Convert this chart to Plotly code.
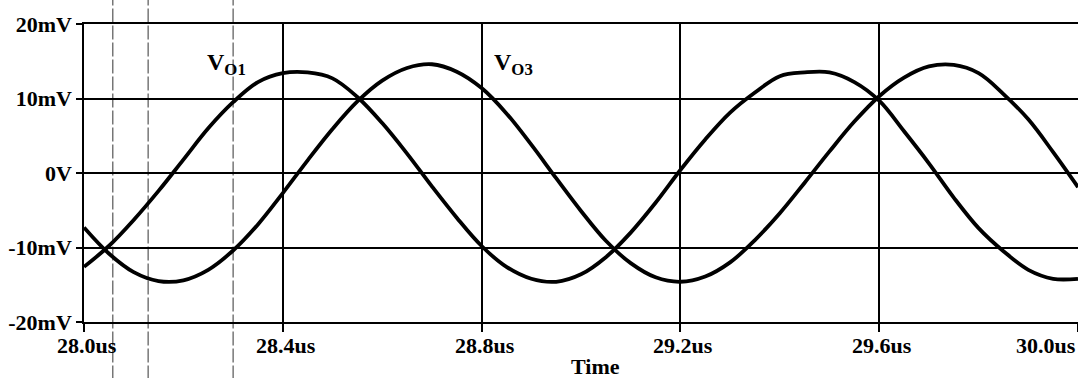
import plotly.graph_objects as go

# Transient simulation samples (time in us, voltage in mV)
time_us = [28.00, 28.05, 28.10, 28.15, 28.20, 28.25, 28.30, 28.35, 28.40, 28.45,
           28.50, 28.55, 28.60, 28.65, 28.70, 28.75, 28.80, 28.85, 28.90, 28.95,
           29.00, 29.05, 29.10, 29.15, 29.20, 29.25, 29.30, 29.35, 29.40, 29.45,
           29.50, 29.55, 29.60, 29.65, 29.70, 29.75, 29.80, 29.85, 29.90, 29.95,
           30.00]

v_o1 = [-12.6, -9.8, -6.3, -2.4, 1.8, 6.0, 9.5, 12.2, 13.4, 13.5,
        12.7, 10.2, 6.7, 2.6, -1.8, -6.0, -9.8, -12.6, -14.2, -14.6,
        -13.6, -11.3, -8.0, -4.0, 0.4, 4.5, 8.1, 10.8, 13.0, 13.5,
        13.5, 12.2, 9.7, 5.6, 1.3, -3.3, -7.4, -10.5, -13.0, -14.2,
        -14.2]

v_o3 = [-7.3, -10.8, -13.3, -14.5, -14.4, -13.0, -10.4, -6.9, -2.7, 1.7,
        5.9, 9.6, 12.4, 14.1, 14.6, 13.6, 11.4, 8.0, 3.8, -0.7,
        -5.1, -9.1, -12.1, -14.0, -14.6, -13.9, -12.0, -9.0, -5.4, -1.3,
        2.9, 6.9, 10.3, 12.8, 14.3, 14.5, 13.4, 10.6, 7.2, 2.8,
        -1.9]

# Axis ticks
x_ticks = [28.0, 28.4, 28.8, 29.2, 29.6, 30.0]
x_tick_text = ["28.0us", "28.4us", "28.8us", "29.2us", "29.6us", "30.0us"]
y_ticks = [-20, -10, 0, 10, 20]
y_tick_text = ["-20mV", "-10mV", "0V", "10mV", "20mV"]

# Cursor positions (us)
cursors = [28.058, 28.129, 28.300]

# Trace labels: (text, time, voltage)
labels = [("V<sub>O1</sub>", 28.286, 14.6), ("V<sub>O3</sub>", 28.865, 14.6)]

FONT = "Liberation Serif"
X_RANGE = [28.0, 30.0]

fig = go.Figure()
for vals in (v_o1, v_o3):
    fig.add_trace(go.Scatter(
        x=time_us, y=vals, mode="lines",
        line=dict(color="black", width=3.8, shape="spline", smoothing=1.0),
        showlegend=False, hoverinfo="skip",
    ))

for t in cursors:
    fig.add_shape(type="line", xref="x", yref="paper", x0=t, x1=t, y0=-0.25, y1=1.12,
                  line=dict(color="#333", width=1, dash="14px,3px"), layer="below")

for text, t, v in labels:
    fig.add_annotation(x=t, y=v, xref="x", yref="y", text="<b>%s</b>" % text, showarrow=False,
                       xanchor="center", yanchor="middle",
                       font=dict(family=FONT, size=24, color="black"))

# x tick labels drawn as annotations so the last one can stay inside the window
for val, txt in zip(x_ticks, x_tick_text):
    anchor = "right" if val >= X_RANGE[1] else "center"
    fig.add_annotation(x=val, y=0, xref="x", yref="paper", text="<b>%s</b>" % txt,
                       showarrow=False, xanchor=anchor, yanchor="top", yshift=-9,
                       xshift=3 if anchor == "center" else 0,
                       font=dict(family=FONT, size=22, color="black"))

fig.add_annotation(x=0.5, y=0, xref="paper", yref="paper", text="<b>Time</b>",
                   showarrow=False, xanchor="center", yanchor="top", yshift=-30, xshift=14,
                   font=dict(family=FONT, size=22, color="black"))

fig.update_layout(
    width=1078, height=378,
    margin=dict(l=84, r=0, t=24, b=56),
    paper_bgcolor="white", plot_bgcolor="white",
    xaxis=dict(range=X_RANGE, tickvals=x_ticks, showticklabels=False,
               ticks="outside", ticklen=8, tickwidth=1.5, tickcolor="black",
               showgrid=True, gridcolor="black", gridwidth=1.5,
               showline=True, linecolor="black", linewidth=1.5, mirror=True,
               zeroline=False, fixedrange=True),
    yaxis=dict(range=[-20, 20], tickvals=y_ticks, ticktext=["<b>%s</b>" % s for s in y_tick_text],
               ticks="outside", ticklen=6, tickwidth=1.5, tickcolor="black",
               tickfont=dict(family=FONT, size=22, color="black"),
               showgrid=True, gridcolor="black", gridwidth=1.5,
               showline=True, linecolor="black", linewidth=1.5,
               zeroline=False, fixedrange=True),
)

fig.write_html("out.html")
